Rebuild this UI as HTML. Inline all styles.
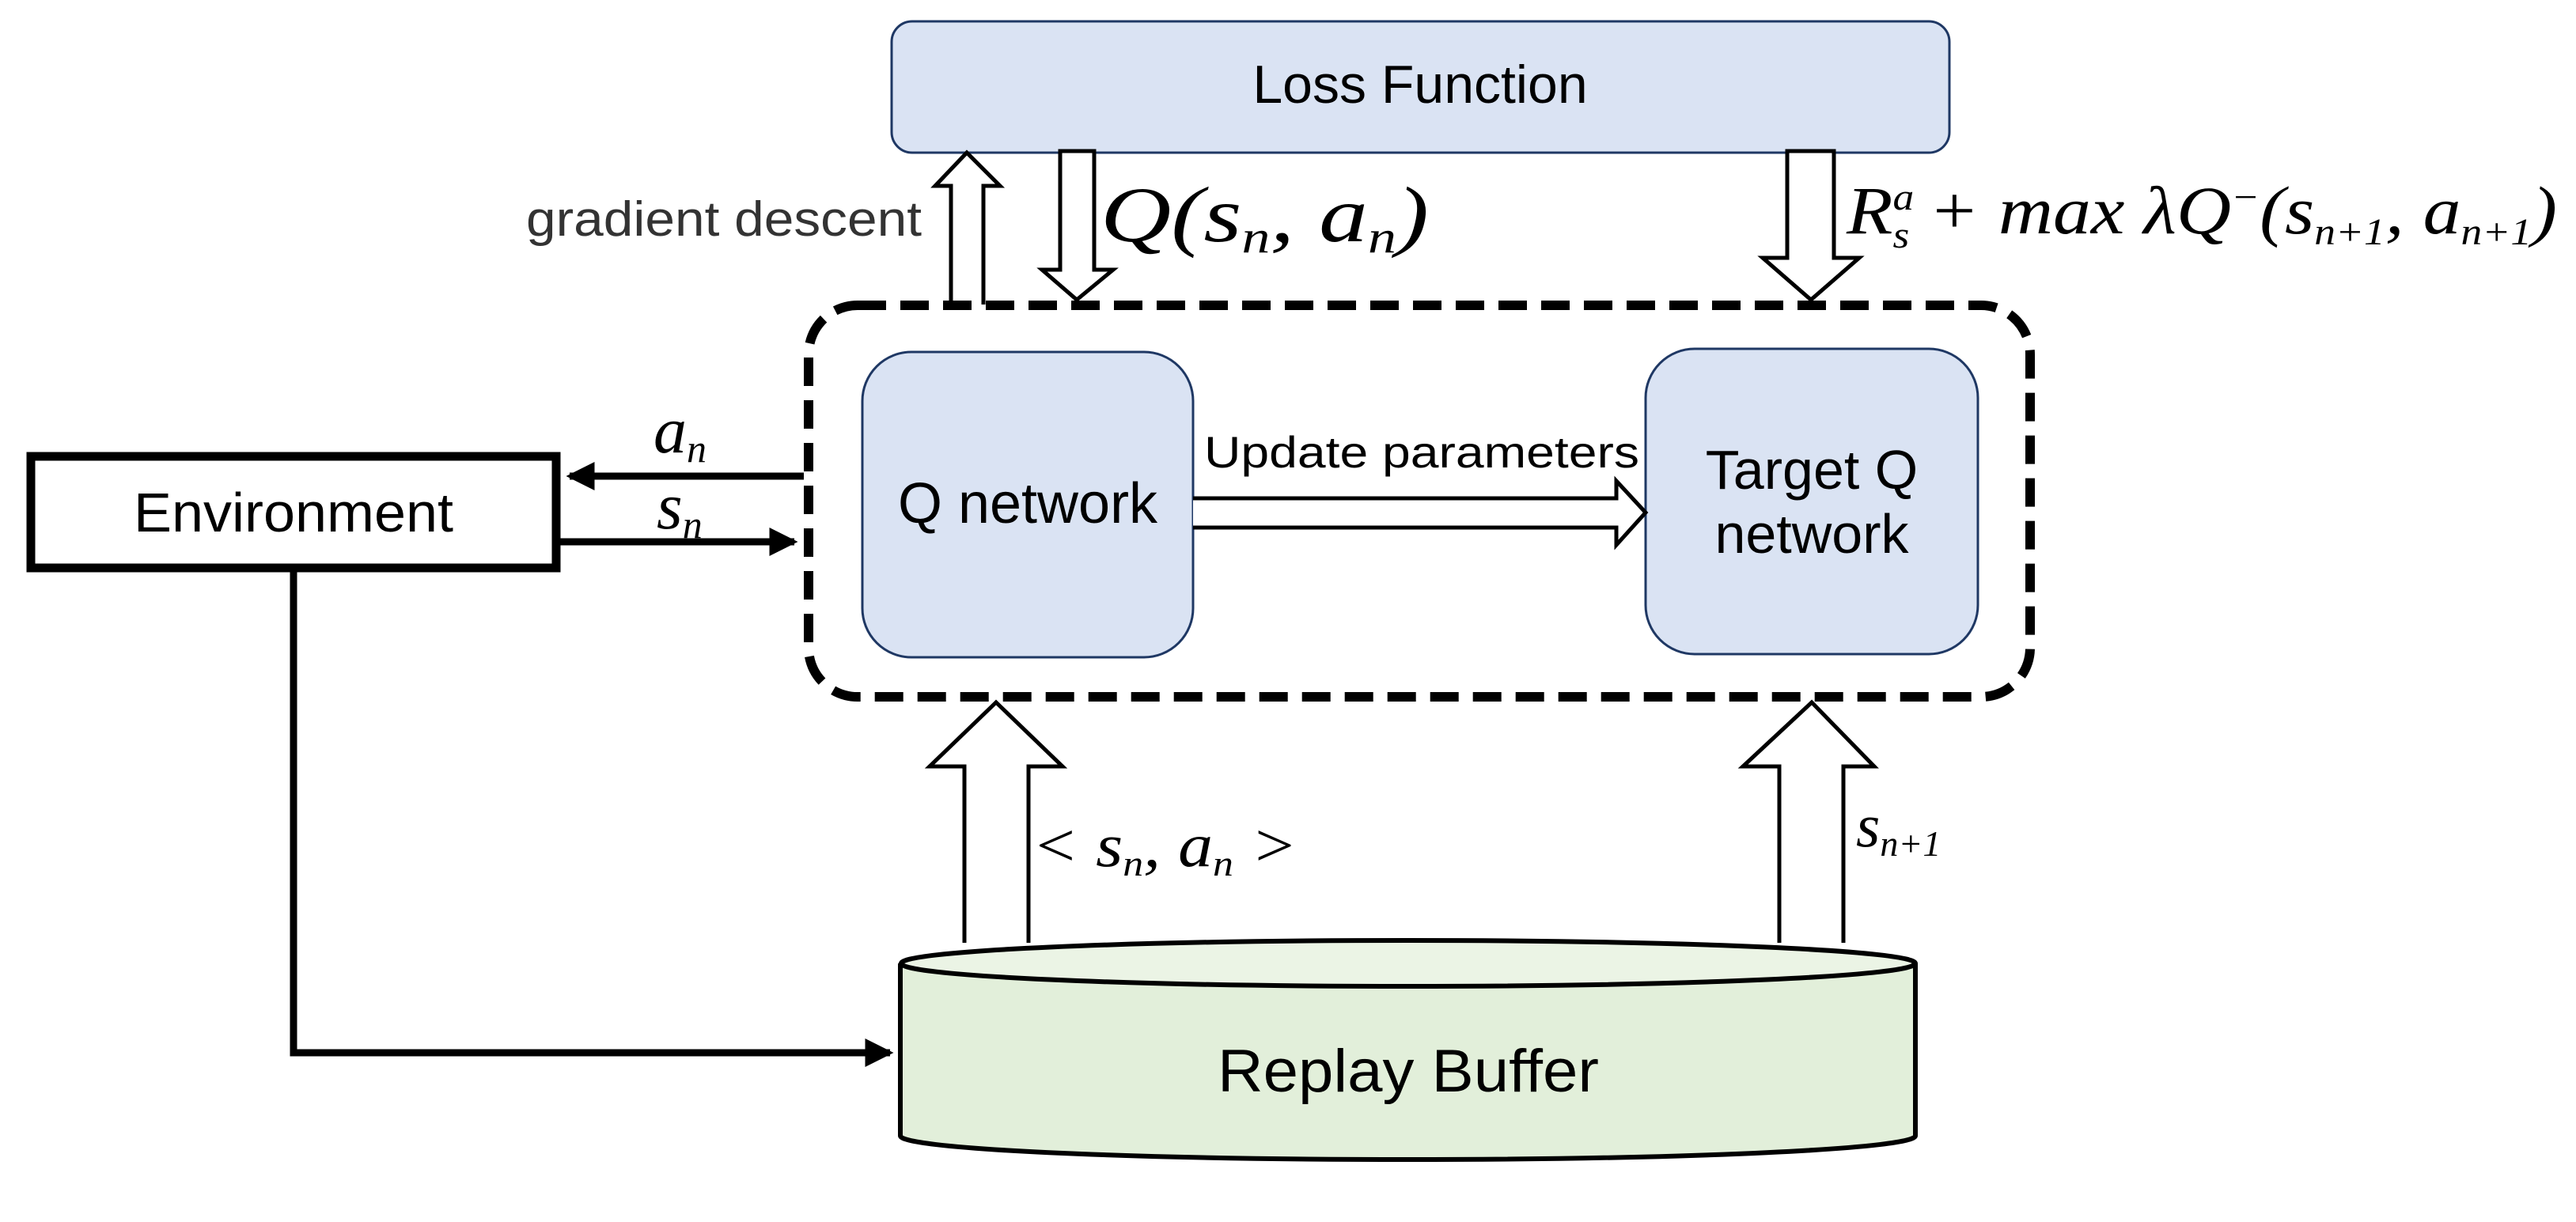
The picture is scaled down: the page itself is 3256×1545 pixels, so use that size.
<!DOCTYPE html>
<html><head><meta charset="utf-8"><style>
html,body{margin:0;padding:0;background:#fff;}
svg{display:block;}
.s{font-family:"Liberation Sans","DejaVu Sans",sans-serif;}
.m{font-family:"Liberation Serif","DejaVu Serif",serif;font-style:italic;}
.r{font-family:"Liberation Serif","DejaVu Serif",serif;}
</style></head><body>
<svg width="3256" height="1545" viewBox="0 0 3256 1545" xmlns="http://www.w3.org/2000/svg">
<defs>
<marker id="ah" markerWidth="4" markerHeight="4" refX="3.5" refY="2" orient="auto" markerUnits="strokeWidth">
<path d="M0,0 L4,2 L0,4 z" fill="#000"/></marker>
</defs>
<!-- Loss Function -->
<rect x="1127" y="27" width="1337" height="166" rx="26" fill="#dae3f3" stroke="#1f3864" stroke-width="3"/>
<text x="1795" y="130" class="s" font-size="68" text-anchor="middle" fill="#000">Loss Function</text>

<!-- gradient descent up arrow -->
<path d="M1202,385 L1202,235 L1182,235 L1222,193 L1264,235 L1243,235 L1243,385" fill="#fff" stroke="#000" stroke-width="5"/>
<text x="665" y="298" class="s" font-size="62" fill="#333" textLength="500" lengthAdjust="spacingAndGlyphs">gradient descent</text>
<!-- Q down arrow -->
<path d="M1340,191 L1383,191 L1383,341 L1407,341 L1361,379 L1317,341 L1340,341 Z" fill="#fff" stroke="#000" stroke-width="5"/>
<text x="1391" y="305" class="m" font-size="100" textLength="415" lengthAdjust="spacingAndGlyphs">Q<tspan class="r">(</tspan>s<tspan font-size="58" dy="14">n</tspan><tspan dy="-14">, a</tspan><tspan font-size="58" dy="14">n</tspan><tspan class="r" dy="-14">)</tspan></text>
<!-- right down arrow -->
<path d="M2259,191 L2318,191 L2318,326 L2350,326 L2289,379 L2228,326 L2259,326 Z" fill="#fff" stroke="#000" stroke-width="5"/>
<text x="2334" y="295" class="m" font-size="86" textLength="898" lengthAdjust="spacingAndGlyphs">R<tspan font-size="48" dy="-30">a</tspan><tspan font-size="48" dx="-24" dy="48">s</tspan><tspan class="r" dy="-18"> + max </tspan>λQ<tspan font-size="48" dy="-30">−</tspan><tspan class="r" dy="30">(</tspan>s<tspan font-size="48" dy="14">n+1</tspan><tspan dy="-14">, a</tspan><tspan font-size="48" dy="14">n+1</tspan><tspan class="r" dy="-14">)</tspan></text>

<!-- dashed container -->
<rect x="1022" y="386" width="1544" height="495" rx="62" fill="none" stroke="#000" stroke-width="12" stroke-dasharray="36 18"/>

<!-- Q network -->
<rect x="1090" y="445" width="418" height="386" rx="62" fill="#dae3f3" stroke="#1f3864" stroke-width="3"/>
<text x="1299" y="661" class="s" font-size="72" text-anchor="middle">Q network</text>
<!-- Target Q -->
<rect x="2080" y="441" width="420" height="386" rx="62" fill="#dae3f3" stroke="#1f3864" stroke-width="3"/>
<text x="2290" y="618" class="s" font-size="70" text-anchor="middle">Target Q</text>
<text x="2290" y="699" class="s" font-size="70" text-anchor="middle">network</text>

<!-- update arrow -->
<path d="M1508,630 L2043,630 L2043,608 L2080,648 L2043,689 L2043,667 L1508,667" fill="#fff" stroke="#000" stroke-width="5"/>
<text x="1522" y="591" class="s" font-size="56" textLength="550" lengthAdjust="spacingAndGlyphs">Update parameters</text>

<!-- Environment -->
<rect x="39" y="577" width="664" height="141" fill="#fff" stroke="#000" stroke-width="11"/>
<text x="371" y="672" class="s" font-size="70" text-anchor="middle" textLength="404" lengthAdjust="spacingAndGlyphs">Environment</text>

<!-- a_n / s_n arrows -->
<line x1="1016" y1="602" x2="720" y2="602" stroke="#000" stroke-width="9" marker-end="url(#ah)"/>
<line x1="708" y1="685" x2="1004" y2="685" stroke="#000" stroke-width="9" marker-end="url(#ah)"/>
<text x="826" y="572" class="m" font-size="84">a<tspan font-size="50" dy="12">n</tspan></text>
<text x="830" y="668" class="m" font-size="84">s<tspan font-size="50" dy="12">n</tspan></text>

<!-- env to buffer -->
<polyline points="371,723 371,1331 1125,1331" fill="none" stroke="#000" stroke-width="9" marker-end="url(#ah)"/>

<!-- Replay Buffer cylinder -->
<path d="M1138,1218 L1138,1436 A641,30 0 0 0 2421,1436 L2421,1218" fill="#e2efda" stroke="#000" stroke-width="6"/>
<ellipse cx="1780" cy="1218" rx="641" ry="29" fill="#ebf4e5" stroke="#000" stroke-width="6"/>
<text x="1780" y="1380" class="s" font-size="76" text-anchor="middle" textLength="482" lengthAdjust="spacingAndGlyphs">Replay Buffer</text>

<!-- up arrows from buffer -->
<path d="M1219,1192 L1219,969 L1175,969 L1259,888 L1343,969 L1300,969 L1300,1192" fill="#fff" stroke="#000" stroke-width="5"/>
<path d="M2249,1192 L2249,969 L2203,969 L2290,888 L2369,969 L2330,969 L2330,1192" fill="#fff" stroke="#000" stroke-width="5"/>
<text x="1304" y="1095" class="m" font-size="78" textLength="336" lengthAdjust="spacingAndGlyphs"><tspan class="r">&lt; </tspan>s<tspan font-size="46" dy="12">n</tspan><tspan dy="-12">, a</tspan><tspan font-size="46" dy="12">n</tspan><tspan class="r" dy="-12"> &gt;</tspan></text>
<text x="2346" y="1070" class="m" font-size="78">s<tspan font-size="46" dy="12" class="r">n+1</tspan></text>
</svg>
</body></html>
